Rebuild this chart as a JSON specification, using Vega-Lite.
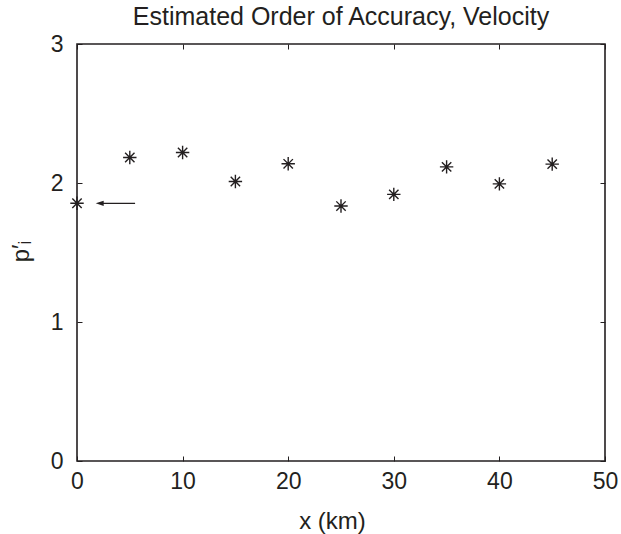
{
  "$schema": "https://vega.github.io/schema/vega-lite/v6.json",
  "width": 528,
  "height": 417,
  "autosize": {"type": "none"},
  "padding": {"left": 77, "top": 44, "right": 16, "bottom": 73},
  "background": "white",
  "config": {
    "view": {"stroke": "#231f20", "strokeWidth": 1.6},
    "font": "Liberation Sans"
  },
  "title": {
    "text": "Estimated Order of Accuracy, Velocity",
    "fontSize": 25,
    "fontWeight": "normal",
    "font": "Liberation Sans",
    "color": "#231f20",
    "anchor": "middle",
    "frame": "group",
    "baseline": "bottom",
    "offset": 12,
    "dy": 34
  },
  "datasets": {
    "points": [
      {"x": 0, "p": 1.854},
      {"x": 5, "p": 2.183},
      {"x": 10, "p": 2.219},
      {"x": 15, "p": 2.011},
      {"x": 20, "p": 2.138},
      {"x": 25, "p": 1.834},
      {"x": 30, "p": 1.918},
      {"x": 35, "p": 2.116},
      {"x": 40, "p": 1.994},
      {"x": 45, "p": 2.136}
    ],
    "arrow": [
      {"x1": 2.1, "x2": 5.5, "p": 1.854, "tip": 2.15}
    ]
  },
  "layer": [
    {
      "data": {"name": "points"},
      "mark": {
        "type": "point",
        "shape": "M0,-1L0,1M-1,0L1,0M-0.7,-0.7L0.7,0.7M-0.7,0.7L0.7,-0.7",
        "size": 180,
        "filled": false,
        "stroke": "#231f20",
        "strokeWidth": 1.4,
        "opacity": 1
      },
      "encoding": {
        "x": {
          "field": "x",
          "type": "quantitative",
          "scale": {"domain": [0, 50], "nice": false, "zero": false},
          "axis": {
            "orient": "bottom",
            "values": [0, 10, 20, 30, 40, 50],
            "format": "d",
            "domain": false,
            "grid": false,
            "tickSize": -5,
            "tickColor": "#231f20",
            "tickWidth": 1,
            "labelFontSize": 23,
            "labelColor": "#231f20",
            "labelFont": "Liberation Sans",
            "labelPadding": 14,
            "labelFlush": false,
            "labelOverlap": false,
            "title": "x (km)",
            "titleFont": "Liberation Sans",
            "titleFontSize": 24,
            "titleFontWeight": "normal",
            "titleColor": "#231f20",
            "titlePadding": 16,
            "titleX": 255,
            "titleAlign": "center"
          }
        },
        "y": {
          "field": "p",
          "type": "quantitative",
          "scale": {"domain": [0, 3], "nice": false, "zero": false},
          "axis": {
            "orient": "left",
            "values": [0, 1, 2, 3],
            "format": "d",
            "domain": false,
            "grid": false,
            "tickSize": -5,
            "tickColor": "#231f20",
            "tickWidth": 1,
            "labelFontSize": 23,
            "labelColor": "#231f20",
            "labelFont": "Liberation Sans",
            "labelPadding": 19,
            "labelFlush": false,
            "labelOverlap": false,
            "title": "p′ᵢ",
            "titleFont": "Liberation Sans",
            "titleFontSize": 24,
            "titleFontWeight": "normal",
            "titleColor": "#231f20",
            "titleAngle": -90,
            "titleAlign": "center",
            "titleBaseline": "alphabetic",
            "titleX": -49,
            "titleY": 207
          }
        }
      }
    },
    {
      "data": {"name": "arrow"},
      "mark": {"type": "rule", "color": "#231f20", "strokeWidth": 1.2},
      "encoding": {
        "x": {
          "field": "x1",
          "type": "quantitative",
          "axis": {
            "orient": "top",
            "values": [0, 10, 20, 30, 40, 50],
            "domain": false,
            "grid": false,
            "labels": false,
            "tickSize": -5,
            "tickColor": "#231f20",
            "tickWidth": 1,
            "title": null
          }
        },
        "x2": {"field": "x2"},
        "y": {
          "field": "p",
          "type": "quantitative",
          "axis": {
            "orient": "right",
            "values": [0, 1, 2, 3],
            "domain": false,
            "grid": false,
            "labels": false,
            "tickSize": -5,
            "tickColor": "#231f20",
            "tickWidth": 1,
            "title": null
          }
        }
      }
    },
    {
      "data": {"name": "arrow"},
      "mark": {
        "type": "point",
        "shape": "M-1,0L1,-0.65L1,0.65Z",
        "size": 64,
        "filled": true,
        "color": "#231f20",
        "opacity": 1
      },
      "encoding": {
        "x": {"field": "tip", "type": "quantitative", "axis": null},
        "y": {"field": "p", "type": "quantitative", "axis": null}
      }
    }
  ]
}
